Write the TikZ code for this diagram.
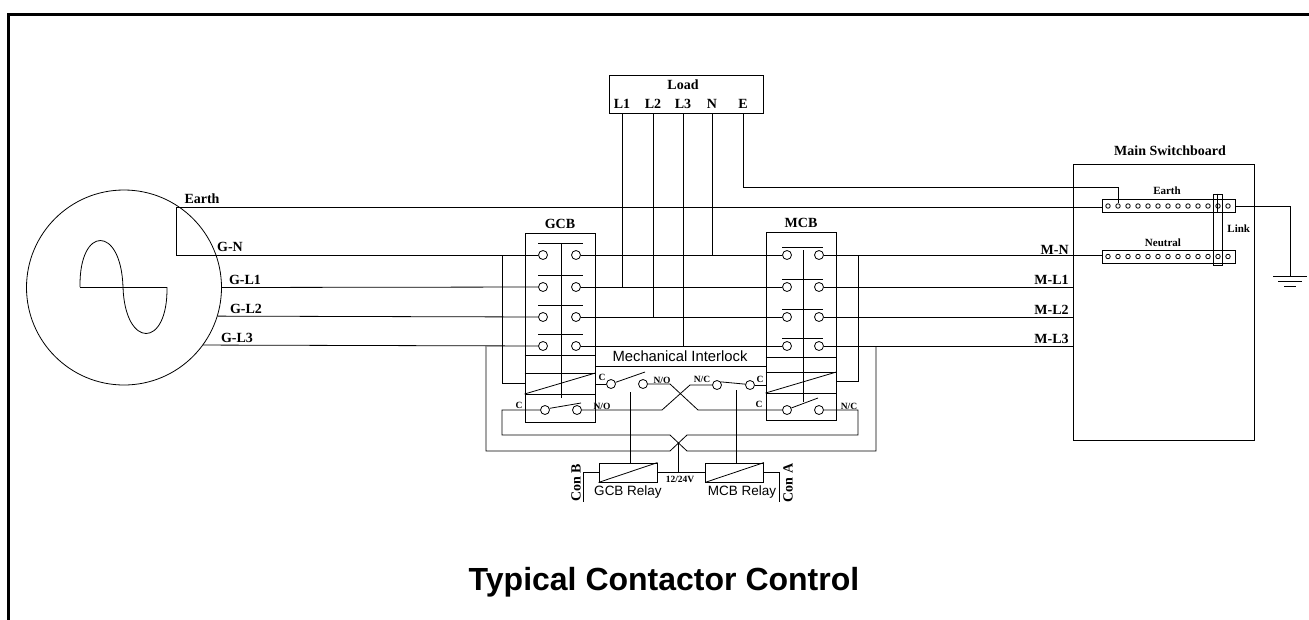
\documentclass[tikz,border=0pt]{standalone}
\usepackage{fontspec}
\setmainfont{Liberation Serif}
\setsansfont{Liberation Sans}
\usetikzlibrary{positioning}

\begin{document}
\begin{tikzpicture}[
    x=1pt, y=-1pt,
    line width=.8pt,
    term/.style={draw,circle,inner sep=0pt,minimum size=9pt,fill=white},
    dot/.style={draw,circle,inner sep=0pt,minimum size=4.5pt,fill=white},
    box/.style={draw,inner sep=0pt},
    lbl/.style={inner sep=0pt,font=\bfseries\fontsize{14}{14}\selectfont},
    sml/.style={inner sep=0pt,font=\bfseries\fontsize{11}{11}\selectfont},
    tny/.style={inner sep=0pt,font=\bfseries\fontsize{9.5}{9.5}\selectfont},
    sns/.style={inner sep=0pt,font=\sffamily\fontsize{13.5}{13.5}\selectfont},
  ]
  \useasboundingbox (0,0) rectangle (1309,619);
  \draw[line width=3pt] (8,630) -- (8,14) -- (1320,14);

  % generator
  \node[draw,circle,inner sep=0pt,minimum size=195pt] (gen) at (124,287.5) {};
  \draw (80,287) -- (167,287);
  \draw (80,287) .. controls (79,225) and (121,225) .. (123,287)
    .. controls (125,349) and (168,349) .. (167,287);
  \coordinate (bondE) at (176,207);
  \coordinate (bondN) at (176,255);
  \draw (bondE) -- (bondN);
  \node[lbl] at (202,199) {Earth};
  \node[lbl] at (230,247) {G-N};
  \node[lbl] at (245,280) {G-L1};
  \node[lbl] at (246,309) {G-L2};
  \node[lbl] at (237,338) {G-L3};

  % GCB
  \node[box,minimum width=70pt,minimum height=189pt] (gcb) at (560,327.5) {};
  \node[lbl,above=4pt of gcb] {GCB};
  \draw (561,244) -- (561,398);
  \foreach \y [count=\i] in {255,287,317,346} {
    \draw (538,\y-12) -- (583,\y-12);
    \node[term] (gl\i) at (543,\y) {};
    \node[term] (gr\i) at (576,\y) {};
  }
  \foreach \y in {355,373,394} \draw (gcb.west |- 0,\y) -- (gcb.east |- 0,\y);
  \draw (gcb.west |- 0,394) -- (gcb.east |- 0,373);
  \node[term] (gc) at (545,410) {};
  \node[term] (gno) at (577,410) {};
  \draw (gc.20) -- (581,403);
  \node[tny] at (519,405) {C};
  \node[tny] at (602,406) {N/O};

  % MCB
  \node[box,minimum width=70pt,minimum height=188pt] (mcb) at (801,326) {};
  \node[lbl,above=4pt of mcb] {MCB};
  \draw (803,250) -- (803,402);
  \foreach \y [count=\i] in {255,287,317,346} {
    \draw (782,\y-8) -- (823,\y-8);
    \node[term] (ml\i) at (787,\y) {};
    \node[term] (mr\i) at (819,\y) {};
  }
  \foreach \y in {357,372,393} \draw (mcb.west |- 0,\y) -- (mcb.east |- 0,\y);
  \draw (mcb.west |- 0,393) -- (mcb.east |- 0,372);
  \node[term] (mc) at (787,410) {};
  \node[term] (mnc) at (819,410) {};
  \draw (mc.25) -- (818,398);
  \node[tny] at (759,404) {C};
  \node[tny] at (849,406) {N/C};

  % generator side wiring
  \draw (bondE) -- (gl1 |- bondE);
  \draw (bondN) -- (gl1);
  \draw (gen.0) -- (gl2);
  \draw (gen.-17.6) -- (gl3);
  \draw (gen.-36.9) -- (gl4);
  \foreach \i in {1,...,4} \draw (gr\i) -- (ml\i);
  \coordinate (gntap) at (502,255);
  \draw (gntap) |- (gcb.west |- 0,383);
  \coordinate (mntap) at (858,255);
  \draw (mntap) |- (mcb.east |- 0,381);

  % load
  \node[box,minimum width=154pt,minimum height=38pt] (load) at (686,94) {};
  \node[lbl] at (683,85) {Load};
  \node[lbl] (ld1) at (622,104) {L1};
  \node[lbl] (ld2) at (653,104) {L2};
  \node[lbl] (ld3) at (683,104) {L3};
  \node[lbl] (ldN) at (712,104) {N};
  \node[lbl] (ldE) at (743,104) {E};
  \draw (load.south -| ld1) -- (ld1 |- gr2);
  \draw (load.south -| ld2) -- (ld2 |- gr3);
  \draw (load.south -| ld3) -- (ld3 |- gr4);
  \draw (load.south -| ldN) -- (ldN |- gr1);

  % interlock
  \node[sns,font=\sffamily\fontsize{14.8}{14.8}\selectfont] at (680,356) {Mechanical Interlock};
  \draw (gcb.east |- 0,366) -- (mcb.west |- 0,366);
  \node[term] (ic1) at (611,384) {};
  \node[term] (ino) at (643,384) {};
  \draw (gcb.east |- ic1) -- (ic1);
  \draw (ic1.20) -- (645,372);
  \node[tny] at (602,377) {C};
  \node[tny] at (662,380) {N/O};
  \node[term] (inc) at (717,385) {};
  \node[term] (ic2) at (750,385) {};
  \draw (inc.40) -- (ic2.170);
  \draw (ic2) -- (mcb.west |- ic2);
  \node[tny] at (702,379) {N/C};
  \node[tny] at (760,379) {C};
  \draw (ino) -- (670,384) -- (698,410) -- (mc);
  \draw (gno) -- (662,410) -- (690,385) -- (inc);

  % cross feed
  \coordinate (ml3tap) at (876,346);
  \coordinate (gl3tap) at (486,346);
  \draw (gc) -| (502,435) -- (670,435) -- (687,451) -| (ml3tap);
  \draw (gl3tap) |- (670,451) -- (687,435) -| (858,410) -- (mnc);

  % relays
  \node[box,minimum width=58pt,minimum height=19pt] (grel) at (628,472.5) {};
  \draw (grel.south west) -- (grel.north east);
  \node[box,minimum width=58pt,minimum height=19pt] (mrel) at (734.5,472.5) {};
  \draw (mrel.south west) -- (mrel.north east);
  \draw (grel) -- (mrel);
  \coordinate (xcross) at (678,443);
  \draw (xcross) -- (xcross |- grel.east);
  \node[tny] at (680,479) {12/24V};
  \node[sns] at (628,492) {GCB Relay};
  \node[sns] at (742,492) {MCB Relay};
  \coordinate (glink) at (630,392);
  \draw (glink) -- (glink |- grel.north);
  \coordinate (mlink) at (736,390);
  \draw (mlink) -- (mlink |- mrel.north);
  \coordinate (conB) at (583,502);
  \draw (grel.west) -| (conB);
  \node[lbl,rotate=90] at (576,483) {Con B};
  \coordinate (conA) at (779,502);
  \draw (mrel.east) -| (conA);
  \node[lbl,rotate=90] at (788,483) {Con A};

  % main switchboard
  \node[box,minimum width=181pt,minimum height=276pt] (msb) at (1163.5,302) {};
  \node[lbl] at (1170,151) {Main Switchboard};
  \node[box,minimum width=133pt,minimum height=13pt] (ebar) at (1168.5,206) {};
  \node[box,minimum width=133pt,minimum height=13pt] (nbar) at (1168.5,256.5) {};
  \node[sml] at (1167,191) {Earth};
  \node[sml] at (1163,243) {Neutral};
  \node[sml,anchor=west] at (1227,229) {Link};
  \node[box,minimum width=9pt,minimum height=71pt] (link) at (1217.5,229.5) {};
  \foreach \k in {0,...,12} {
    \node[dot] (e\k) at (1108+10*\k,206) {};
    \node[dot] (n\k) at (1108+10*\k,256.5) {};
  }
  \draw (link.north) -- (link.north |- ebar.south);
  \draw (bondE) -- (bondE -| ebar.west);
  \coordinate (ebend) at (1118,187);
  \draw (load.south -| ldE) |- (ebend) -- (e1.north);
  \draw (mr1) -- (mr1 -| nbar.west);
  \foreach \i in {2,3,4} \draw (mr\i) -- (mr\i -| msb.west);
  \node[lbl,anchor=east] at (1069,250) {M-N};
  \node[lbl,anchor=east] at (1069,280) {M-L1};
  \node[lbl,anchor=east] at (1069,310) {M-L2};
  \node[lbl,anchor=east] at (1069,339) {M-L3};

  % ground
  \coordinate (gnd) at (1290,276);
  \draw (ebar.east) -| (gnd);
  \draw (1273,276) -- (1307,276);
  \draw (1278,281) -- (1302,281);
  \draw (1284,286) -- (1296,286);

  \node[inner sep=0pt,font=\sffamily\bfseries\fontsize{32}{32}\selectfont] at (664,582) {Typical Contactor Control};
\end{tikzpicture}
\end{document}
